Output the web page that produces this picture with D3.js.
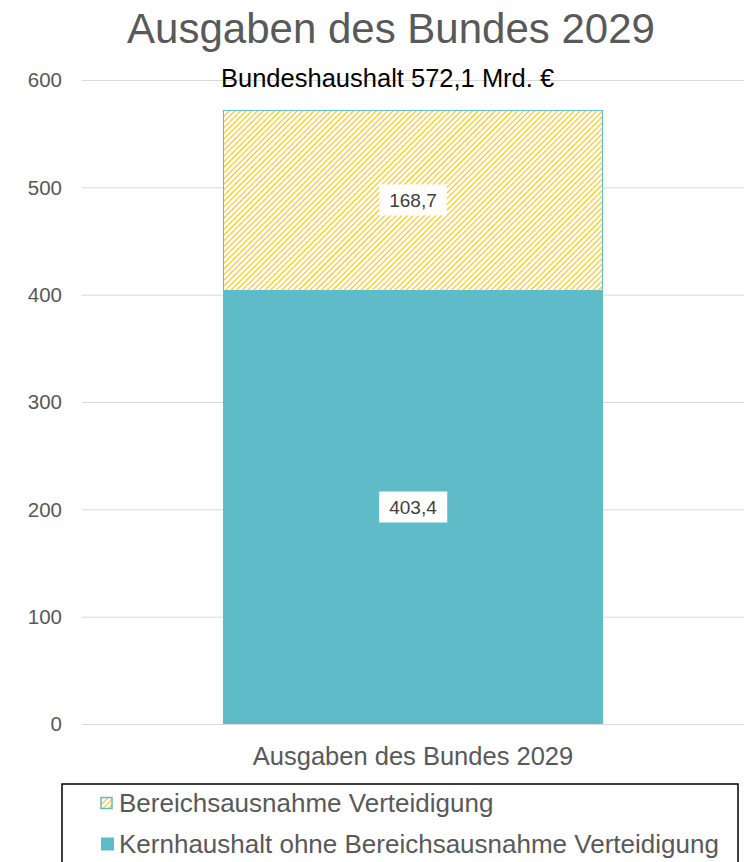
<!DOCTYPE html>
<html>
<head>
<meta charset="utf-8">
<script src="https://cdn.jsdelivr.net/npm/d3@7"></script>
<style>
  body { margin: 0; background: #fff; }
  text { font-family: "Liberation Sans", Arial, sans-serif; }
</style>
</head>
<body>
<div id="chart"></div>
<script>
const categories = ['Ausgaben des Bundes 2029'];
const seriesNames = ['Kernhaushalt ohne Bereichsausnahme Verteidigung', 'Bereichsausnahme Verteidigung'];
const kernValues = [403.4];
const verteidigungValues = [168.7];
const totalLabel = 'Bundeshaushalt 572,1 Mrd. €';
const yTicks = [0, 100, 200, 300, 400, 500, 600];

const W = 744;
const H = 862;
const margin = { top: 80, right: 0, bottom: 138, left: 82 };

const svg = d3.select('#chart').append('svg')
  .attr('width', W)
  .attr('height', H);

const defs = svg.append('defs');
const pat = defs.append('pattern')
  .attr('id', 'hatch')
  .attr('patternUnits', 'userSpaceOnUse')
  .attr('width', 4)
  .attr('height', 4)
  .attr('patternTransform', 'rotate(45)');
pat.append('rect').attr('width', 4).attr('height', 4).attr('fill', '#fff');
pat.append('line')
  .attr('x1', 0).attr('y1', 0).attr('x2', 0).attr('y2', 4)
  .attr('stroke', '#ffc000')
  .attr('stroke-width', 2.1);

const y = d3.scaleLinear().domain([0, 600]).range([H - margin.bottom, margin.top]);
const x = d3.scaleBand().domain(categories).range([margin.left, W]).paddingInner(0).paddingOuter(0.371);

// title
svg.append('text')
  .attr('x', 391).attr('y', 43)
  .attr('text-anchor', 'middle')
  .attr('font-size', 42)
  .attr('fill', '#595959')
  .text('Ausgaben des Bundes 2029');

// grid
svg.append('g').selectAll('line')
  .data(yTicks)
  .join('line')
  .attr('x1', margin.left).attr('x2', W)
  .attr('y1', d => y(d) + 0.5).attr('y2', d => y(d) + 0.5)
  .attr('stroke', '#d9d9d9')
  .attr('stroke-width', 1);

// y tick labels
svg.append('g').selectAll('text')
  .data(yTicks)
  .join('text')
  .attr('x', 62).attr('y', d => y(d))
  .attr('dy', '0.36em')
  .attr('text-anchor', 'end')
  .attr('font-size', 20.5)
  .attr('fill', '#595959')
  .text(d => d);

const stacked = categories.map((c, i) => ({
  cat: c,
  kern: kernValues[i],
  vert: verteidigungValues[i],
}));

// bars
const bars = svg.append('g');
stacked.forEach((d) => {
  bars.append('rect')
    .attr('x', x(d.cat))
    .attr('width', x.bandwidth())
    .attr('y', y(d.kern))
    .attr('height', y(0) - y(d.kern))
    .attr('fill', '#60bbc9');
  bars.append('rect')
    .attr('x', x(d.cat) + 0.5)
    .attr('width', x.bandwidth() - 1)
    .attr('y', y(d.kern + d.vert) + 0.5)
    .attr('height', y(d.kern) - y(d.kern + d.vert) - 1)
    .attr('fill', 'url(#hatch)')
    .attr('stroke', '#60bbc9')
    .attr('stroke-width', 1);
});

const fmt = v => d3.format('.1f')(v).replace('.', ',');

function valueLabel(cx, cy, v) {
  const g = svg.append('g');
  const t = g.append('text')
    .attr('x', cx).attr('y', cy)
    .attr('dy', '0.36em')
    .attr('text-anchor', 'middle')
    .attr('font-size', 19)
    .attr('fill', '#404040')
    .text(fmt(v));
  const bb = t.node().getBBox();
  g.insert('rect', 'text')
    .attr('x', bb.x - 10).attr('y', cy - 16)
    .attr('width', bb.width + 20).attr('height', 31)
    .attr('fill', '#fff');
}

stacked.forEach((d) => {
  const cx = x(d.cat) + x.bandwidth() / 2;
  valueLabel(cx, y(d.kern / 2), d.kern);
  valueLabel(cx, y(d.kern + d.vert / 2), d.vert);
});

// total annotation
svg.append('text')
  .attr('x', 221).attr('y', 87)
  .attr('font-size', 25.5)
  .attr('fill', '#000')
  .text(totalLabel);

// category label
svg.append('g').selectAll('text')
  .data(categories)
  .join('text')
  .attr('x', d => x(d) + x.bandwidth() / 2)
  .attr('y', 765)
  .attr('text-anchor', 'middle')
  .attr('font-size', 25.5)
  .attr('fill', '#595959')
  .text(d => d);

// legend
const legend = svg.append('g');
legend.append('rect')
  .attr('x', 62).attr('y', 784)
  .attr('width', 676).attr('height', 90)
  .attr('fill', 'none')
  .attr('stroke', '#000')
  .attr('stroke-width', 1.5);

const legendItems = [
  { name: seriesNames[1], fill: 'url(#hatch)', stroke: '#60bbc9', size: 11 },
  { name: seriesNames[0], fill: '#60bbc9', stroke: 'none', size: 13 },
];
legendItems.forEach((d, i) => {
  const cy = 803 + i * 41;
  legend.append('rect')
    .attr('x', 101).attr('y', cy - d.size / 2)
    .attr('width', d.size).attr('height', d.size)
    .attr('fill', d.fill)
    .attr('stroke', d.stroke)
    .attr('stroke-width', 1.5);
  legend.append('text')
    .attr('x', 119).attr('y', cy)
    .attr('dy', '0.36em')
    .attr('font-size', 26)
    .attr('fill', '#595959')
    .text(d.name);
});
</script>
</body>
</html>
